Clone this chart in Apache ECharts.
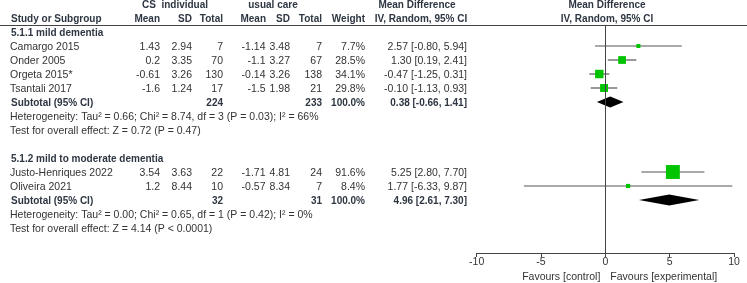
<!DOCTYPE html>
<html>
<head>
<meta charset="utf-8">
<script src="https://cdn.jsdelivr.net/npm/echarts@6/dist/echarts.min.js"></script>
<style>
html, body { margin: 0; padding: 0; background: #fff; }
#main { width: 747px; height: 283px; }
</style>
</head>
<body>
<div id="main"></div>
<script>
// study level data
var studies = ['Camargo 2015', 'Onder 2005', 'Orgeta 2015*', 'Tsantali 2017', 'Justo-Henriques 2022', 'Oliveira 2021'];
var studyGroup = [0, 0, 0, 0, 1, 1];
var csMean = [1.43, 0.2, -0.61, -1.6, 3.54, 1.2];
var csSD = [2.94, 3.35, 3.26, 1.24, 3.63, 8.44];
var csN = [7, 70, 130, 17, 22, 10];
var ucMean = [-1.14, -1.1, -0.14, -1.5, -1.71, -0.57];
var ucSD = [3.48, 3.27, 3.26, 1.98, 4.81, 8.34];
var ucN = [7, 67, 138, 21, 24, 7];
var weight = [7.7, 28.5, 34.1, 29.8, 91.6, 8.4];
var md = [2.57, 1.30, -0.47, -0.10, 5.25, 1.77];
var mdLo = [-0.80, 0.19, -1.25, -1.13, 2.80, -6.33];
var mdHi = [5.94, 2.41, 0.31, 0.93, 7.70, 9.87];

// subgroup totals
var groups = ['5.1.1 mild dementia', '5.1.2 mild to moderate dementia'];
var subCsN = [224, 32];
var subUcN = [233, 31];
var subMd = [0.38, 4.96];
var subLo = [-0.66, 2.61];
var subHi = [1.41, 7.30];
var hetText = ['Heterogeneity: Tau\u00b2 = 0.66; Chi\u00b2 = 8.74, df = 3 (P = 0.03); I\u00b2 = 66%',
               'Heterogeneity: Tau\u00b2 = 0.00; Chi\u00b2 = 0.65, df = 1 (P = 0.42); I\u00b2 = 0%'];
var testText = ['Test for overall effect: Z = 0.72 (P = 0.47)',
                'Test for overall effect: Z = 4.14 (P < 0.0001)'];
var xTicks = [-10, -5, 0, 5, 10];

var FONT = "10.5px 'Liberation Sans', Arial, sans-serif";
var BFONT = "bold 10px 'Liberation Sans', Arial, sans-serif";
var TXT = '#333';
var HDR = '#2e3642';

// row numbers for every line of the table
var studyRow = [], subRow = [], hetRow = [], testRow = [], groupRow = [];
var r = 0;
groups.forEach(function (g, gi) {
    groupRow.push(r); r++;
    studies.forEach(function (s, i) {
        if (studyGroup[i] === gi) { studyRow[i] = r; r++; }
    });
    subRow.push(r); r++;
    hetRow.push(r); r++;
    testRow.push(r); r += 2;
});

var studyData = studies.map(function (s, i) {
    return [mdLo[i], mdHi[i], md[i], studyRow[i], weight[i]];
});
var diamondData = groups.map(function (g, i) {
    return [subLo[i], subHi[i], subMd[i], subRow[i]];
});

var chart = echarts.init(document.getElementById('main'));
chart.setOption({
    animation: false,
    grid: { left: 476.7, right: 13, top: 25, bottom: 30 },
    xAxis: {
        type: 'value', min: xTicks[0], max: xTicks[xTicks.length - 1], interval: 5,
        axisLine: { onZero: false, lineStyle: { color: '#444', width: 1 } },
        axisTick: { length: 4, lineStyle: { color: '#444' } },
        axisLabel: { color: TXT, fontSize: 10.5, margin: 4, fontFamily: 'Liberation Sans' },
        splitLine: { show: false }
    },
    yAxis: {
        type: 'value', inverse: true, min: -0.5, max: 15.7857, show: false
    },
    series: [
        {
            type: 'custom',
            data: studyData,
            encode: { x: [0, 1, 2], y: 3 },
            renderItem: function (params, api) {
                var lo = api.coord([api.value(0), api.value(3)]);
                var hi = api.coord([api.value(1), api.value(3)]);
                var c = api.coord([api.value(2), api.value(3)]);
                var s = 1.45 * Math.sqrt(api.value(4));
                return {
                    type: 'group',
                    children: [
                        { type: 'line', shape: { x1: lo[0], y1: lo[1], x2: hi[0], y2: hi[1] },
                          style: { stroke: '#555', lineWidth: 1.2 } },
                        { type: 'rect', shape: { x: c[0] - s / 2, y: c[1] - s / 2, width: s, height: s },
                          style: { fill: '#00c400' } }
                    ]
                };
            },
            markLine: {
                silent: true, symbol: 'none', label: { show: false },
                lineStyle: { color: '#444', width: 1, type: 'solid' },
                data: [{ xAxis: 0 }]
            }
        },
        {
            type: 'custom',
            data: diamondData,
            encode: { x: [0, 1, 2], y: 3 },
            renderItem: function (params, api) {
                var lo = api.coord([api.value(0), api.value(3)]);
                var hi = api.coord([api.value(1), api.value(3)]);
                var c = api.coord([api.value(2), api.value(3)]);
                var h = 5.5;
                return {
                    type: 'polygon',
                    shape: { points: [[lo[0], lo[1]], [c[0], c[1] - h], [hi[0], hi[1]], [c[0], c[1] + h]] },
                    style: { fill: '#000' }
                };
            }
        }
    ]
});

// table text, rows placed with the plot's y scale
function rowY(row) { return chart.convertToPixel({ yAxisIndex: 0 }, row) + 1.5; }
function txt(t, x, y, align, font, color) {
    return { type: 'text', x: x, y: y, silent: true,
             style: { text: t, textAlign: align, textVerticalAlign: 'middle', font: font, fill: color } };
}
function ci(m, lo, hi) { return m.toFixed(2) + ' [' + lo.toFixed(2) + ', ' + hi.toFixed(2) + ']'; }

var els = [];
els.push({ type: 'line', silent: true, shape: { x1: 0, y1: 25.5, x2: 747, y2: 25.5 }, style: { stroke: '#444', lineWidth: 1.2 } });
// headers
els.push(txt('CS  individual', 175, 5.5, 'center', BFONT, HDR));
els.push(txt('usual care', 273, 5.5, 'center', BFONT, HDR));
els.push(txt('Mean Difference', 417, 5.5, 'center', BFONT, HDR));
els.push(txt('Mean Difference', 607, 5.5, 'center', BFONT, HDR));
els.push(txt('Study or Subgroup', 11, 19, 'left', BFONT, HDR));
els.push(txt('Mean', 160, 19, 'right', BFONT, HDR));
els.push(txt('SD', 192, 19, 'right', BFONT, HDR));
els.push(txt('Total', 223, 19, 'right', BFONT, HDR));
els.push(txt('Mean', 266, 19, 'right', BFONT, HDR));
els.push(txt('SD', 290, 19, 'right', BFONT, HDR));
els.push(txt('Total', 322, 19, 'right', BFONT, HDR));
els.push(txt('Weight', 365, 19, 'right', BFONT, HDR));
els.push(txt('IV, Random, 95% CI', 421, 19, 'center', BFONT, HDR));
els.push(txt('IV, Random, 95% CI', 607, 19, 'center', BFONT, HDR));

studies.forEach(function (s, i) {
    var y = rowY(studyRow[i]);
    els.push(txt(s, 10, y, 'left', FONT, TXT));
    els.push(txt(String(csMean[i]), 160, y, 'right', FONT, TXT));
    els.push(txt(String(csSD[i]), 192, y, 'right', FONT, TXT));
    els.push(txt(String(csN[i]), 223, y, 'right', FONT, TXT));
    els.push(txt(String(ucMean[i]), 265.5, y, 'right', FONT, TXT));
    els.push(txt(String(ucSD[i]), 290, y, 'right', FONT, TXT));
    els.push(txt(String(ucN[i]), 322, y, 'right', FONT, TXT));
    els.push(txt(weight[i].toFixed(1) + '%', 365, y, 'right', FONT, TXT));
    els.push(txt(ci(md[i], mdLo[i], mdHi[i]), 467, y, 'right', FONT, TXT));
});
groups.forEach(function (g, i) {
    els.push(txt(g, 11, rowY(groupRow[i]), 'left', BFONT, HDR));
    var y = rowY(subRow[i]);
    els.push(txt('Subtotal (95% CI)', 11, y, 'left', BFONT, HDR));
    els.push(txt(String(subCsN[i]), 223, y, 'right', BFONT, HDR));
    els.push(txt(String(subUcN[i]), 322, y, 'right', BFONT, HDR));
    els.push(txt('100.0%', 365, y, 'right', BFONT, HDR));
    els.push(txt(ci(subMd[i], subLo[i], subHi[i]), 467, y, 'right', BFONT, HDR));
    els.push(txt(hetText[i], 10, rowY(hetRow[i]), 'left', FONT, TXT));
    els.push(txt(testText[i], 10, rowY(testRow[i]), 'left', FONT, TXT));
});
var x0 = chart.convertToPixel({ xAxisIndex: 0 }, 0);
els.push(txt('Favours [control]', x0 - 5, 277, 'right', FONT, TXT));
els.push(txt('Favours [experimental]', x0 + 5, 277, 'left', FONT, TXT));

chart.setOption({ graphic: { elements: els } });
</script>
</body>
</html>
